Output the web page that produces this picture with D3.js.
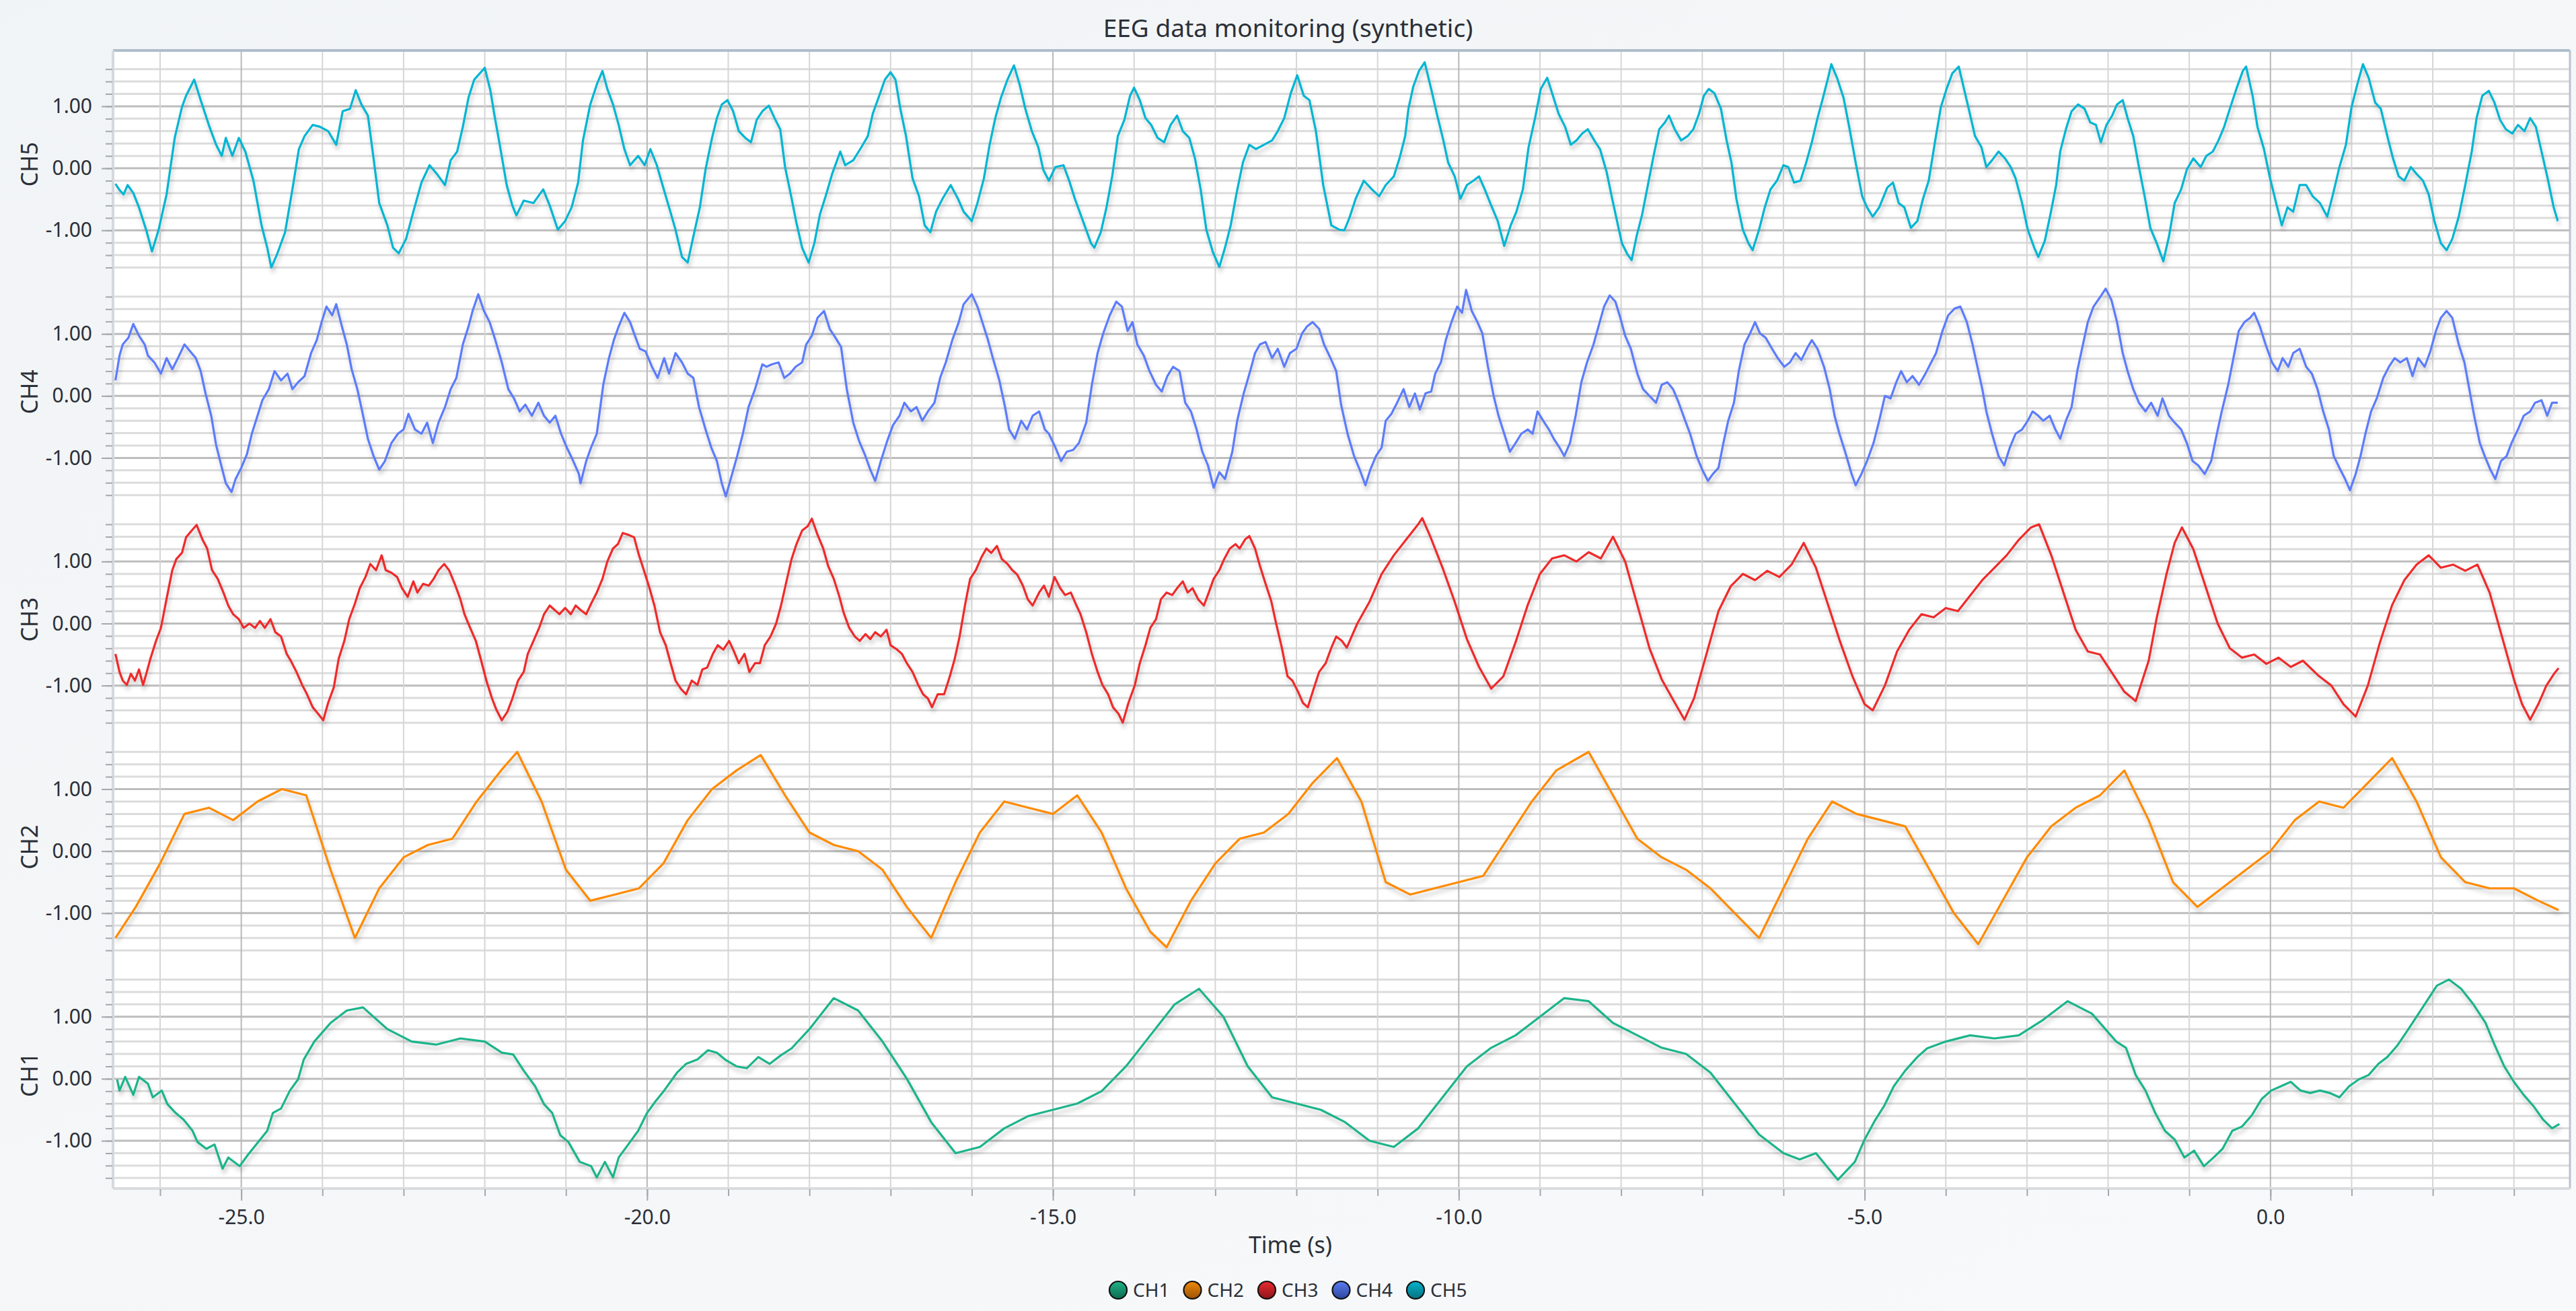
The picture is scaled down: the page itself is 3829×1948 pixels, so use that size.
<!DOCTYPE html>
<html>
<head>
<meta charset="utf-8">
<script src="https://cdn.jsdelivr.net/npm/d3@7"></script>
<style>
  html, body { margin: 0; padding: 0; background: #f5f7f9; }
  svg { display: block; font-family: "Segoe UI", "Noto Sans", "Open Sans", sans-serif; }
</style>
</head>
<body>
<div id="chart"></div>
<script>
// channel names, top panel is CH5
const channelNames = ["CH5", "CH4", "CH3", "CH2", "CH1"];
const legendNames = ["CH1", "CH2", "CH3", "CH4", "CH5"];
const lineColors = {CH1: "#1db48a", CH2: "#ff8a00", CH3: "#ef2a2c", CH4: "#5b7cfb", CH5: "#00b5d3"};
const legendTop = {CH1: "#23b389", CH2: "#f08a0c", CH3: "#ea2a30", CH4: "#5a7cf0", CH5: "#04b4cc"};
const legendBottom = {CH1: "#0c6a4f", CH2: "#9c5204", CH3: "#8c141a", CH4: "#2f469e", CH5: "#06707f"};

const xMajorTicks = [-25, -20, -15, -10, -5, 0];
const yMajorTicks = [-1, 0, 1];

// [time s, value]
const ch5 = [[-26.55,-0.25],[-26.5,-0.35],[-26.45,-0.42],[-26.4,-0.27],[-26.33,-0.4],[-26.26,-0.63],[-26.17,-1.0],[-26.1,-1.34],[-26.02,-1.0],[-25.92,-0.42],[-25.82,0.49],[-25.73,0.99],[-25.68,1.17],[-25.58,1.43],[-25.5,1.1],[-25.4,0.7],[-25.31,0.38],[-25.24,0.2],[-25.19,0.49],[-25.11,0.2],[-25.03,0.49],[-24.95,0.27],[-24.85,-0.2],[-24.75,-0.92],[-24.68,-1.28],[-24.63,-1.6],[-24.56,-1.39],[-24.46,-1.03],[-24.37,-0.34],[-24.29,0.31],[-24.22,0.52],[-24.12,0.7],[-24.03,0.67],[-23.93,0.6],[-23.83,0.38],[-23.75,0.92],[-23.66,0.96],[-23.59,1.26],[-23.52,1.03],[-23.44,0.85],[-23.37,0.16],[-23.3,-0.56],[-23.2,-0.92],[-23.13,-1.28],[-23.06,-1.37],[-22.97,-1.14],[-22.88,-0.7],[-22.78,-0.23],[-22.68,0.05],[-22.59,-0.09],[-22.49,-0.27],[-22.42,0.13],[-22.34,0.27],[-22.27,0.67],[-22.2,1.14],[-22.13,1.43],[-22.0,1.62],[-21.93,1.25],[-21.88,0.85],[-21.81,0.34],[-21.73,-0.27],[-21.66,-0.6],[-21.61,-0.76],[-21.52,-0.52],[-21.4,-0.56],[-21.28,-0.34],[-21.2,-0.6],[-21.1,-0.99],[-21.01,-0.85],[-20.93,-0.63],[-20.85,-0.23],[-20.79,0.45],[-20.7,1.03],[-20.62,1.35],[-20.55,1.57],[-20.49,1.28],[-20.42,1.03],[-20.35,0.7],[-20.28,0.31],[-20.21,0.05],[-20.11,0.2],[-20.03,0.05],[-19.96,0.31],[-19.88,0.05],[-19.81,-0.27],[-19.72,-0.67],[-19.65,-0.99],[-19.57,-1.43],[-19.5,-1.52],[-19.43,-1.1],[-19.35,-0.63],[-19.28,-0.02],[-19.2,0.49],[-19.14,0.81],[-19.08,1.03],[-19.01,1.1],[-18.94,0.92],[-18.87,0.6],[-18.79,0.49],[-18.72,0.42],[-18.65,0.78],[-18.58,0.92],[-18.5,1.01],[-18.43,0.81],[-18.36,0.63],[-18.3,0.02],[-18.23,-0.42],[-18.16,-0.88],[-18.09,-1.28],[-18.01,-1.52],[-17.94,-1.21],[-17.87,-0.74],[-17.8,-0.45],[-17.72,-0.09],[-17.62,0.27],[-17.56,0.05],[-17.46,0.13],[-17.36,0.34],[-17.28,0.52],[-17.22,0.88],[-17.14,1.17],[-17.07,1.43],[-17.0,1.55],[-16.94,1.43],[-16.88,0.96],[-16.81,0.52],[-16.73,-0.16],[-16.65,-0.45],[-16.58,-0.92],[-16.51,-1.03],[-16.44,-0.7],[-16.36,-0.49],[-16.26,-0.27],[-16.17,-0.49],[-16.1,-0.7],[-16.0,-0.85],[-15.93,-0.56],[-15.85,-0.16],[-15.78,0.38],[-15.71,0.81],[-15.64,1.14],[-15.56,1.43],[-15.48,1.66],[-15.41,1.35],[-15.34,0.96],[-15.26,0.6],[-15.18,0.34],[-15.12,-0.02],[-15.05,-0.2],[-14.97,0.02],[-14.87,0.05],[-14.8,-0.2],[-14.73,-0.49],[-14.63,-0.85],[-14.53,-1.21],[-14.49,-1.28],[-14.41,-1.03],[-14.34,-0.63],[-14.27,-0.13],[-14.2,0.52],[-14.12,0.78],[-14.05,1.17],[-14.0,1.3],[-13.93,1.1],[-13.86,0.81],[-13.79,0.7],[-13.71,0.49],[-13.63,0.42],[-13.55,0.7],[-13.47,0.85],[-13.4,0.6],[-13.32,0.49],[-13.25,0.16],[-13.18,-0.34],[-13.11,-0.99],[-13.03,-1.35],[-12.95,-1.59],[-12.88,-1.28],[-12.81,-0.92],[-12.74,-0.42],[-12.66,0.09],[-12.58,0.38],[-12.5,0.31],[-12.4,0.38],[-12.3,0.45],[-12.23,0.6],[-12.15,0.81],[-12.07,1.21],[-11.99,1.5],[-11.91,1.17],[-11.84,1.1],[-11.76,0.6],[-11.67,-0.27],[-11.57,-0.92],[-11.47,-0.99],[-11.41,-1.0],[-11.35,-0.81],[-11.27,-0.49],[-11.17,-0.2],[-11.07,-0.34],[-10.98,-0.45],[-10.9,-0.27],[-10.8,-0.13],[-10.73,0.16],[-10.66,0.52],[-10.62,0.96],[-10.56,1.32],[-10.49,1.57],[-10.42,1.71],[-10.34,1.28],[-10.27,0.88],[-10.19,0.45],[-10.13,0.09],[-10.05,-0.13],[-9.98,-0.49],[-9.9,-0.27],[-9.82,-0.2],[-9.75,-0.13],[-9.68,-0.34],[-9.6,-0.6],[-9.52,-0.85],[-9.44,-1.25],[-9.36,-0.92],[-9.29,-0.7],[-9.21,-0.34],[-9.14,0.34],[-9.06,0.81],[-8.99,1.28],[-8.91,1.46],[-8.84,1.17],[-8.77,0.88],[-8.69,0.67],[-8.62,0.38],[-8.55,0.45],[-8.48,0.56],[-8.41,0.63],[-8.33,0.45],[-8.26,0.31],[-8.18,-0.05],[-8.11,-0.49],[-8.05,-0.85],[-7.99,-1.21],[-7.92,-1.39],[-7.87,-1.48],[-7.81,-1.1],[-7.74,-0.74],[-7.67,-0.27],[-7.6,0.2],[-7.53,0.63],[-7.46,0.74],[-7.41,0.85],[-7.34,0.63],[-7.26,0.45],[-7.18,0.52],[-7.11,0.63],[-7.04,0.88],[-6.98,1.17],[-6.92,1.28],[-6.85,1.21],[-6.77,0.96],[-6.7,0.45],[-6.64,0.09],[-6.58,-0.49],[-6.5,-0.99],[-6.43,-1.21],[-6.38,-1.32],[-6.3,-0.99],[-6.23,-0.63],[-6.16,-0.34],[-6.08,-0.2],[-6.0,0.05],[-5.94,0.02],[-5.87,-0.23],[-5.79,-0.2],[-5.72,0.09],[-5.65,0.42],[-5.58,0.81],[-5.52,1.1],[-5.45,1.46],[-5.41,1.68],[-5.34,1.46],[-5.26,1.14],[-5.19,0.67],[-5.11,0.09],[-5.03,-0.45],[-4.97,-0.63],[-4.9,-0.78],[-4.82,-0.63],[-4.72,-0.31],[-4.65,-0.23],[-4.58,-0.56],[-4.51,-0.63],[-4.43,-0.96],[-4.35,-0.85],[-4.28,-0.49],[-4.21,-0.2],[-4.13,0.45],[-4.06,0.99],[-3.99,1.28],[-3.92,1.53],[-3.84,1.64],[-3.77,1.25],[-3.71,0.92],[-3.64,0.52],[-3.56,0.34],[-3.5,0.02],[-3.43,0.13],[-3.35,0.27],[-3.27,0.16],[-3.2,0.02],[-3.14,-0.16],[-3.06,-0.56],[-2.99,-0.99],[-2.91,-1.28],[-2.86,-1.43],[-2.78,-1.17],[-2.71,-0.74],[-2.64,-0.27],[-2.59,0.27],[-2.52,0.63],[-2.45,0.92],[-2.37,1.03],[-2.29,0.96],[-2.22,0.74],[-2.15,0.7],[-2.09,0.42],[-2.02,0.7],[-1.95,0.85],[-1.89,1.03],[-1.82,1.1],[-1.76,0.81],[-1.69,0.52],[-1.62,0.02],[-1.55,-0.45],[-1.48,-0.96],[-1.4,-1.21],[-1.32,-1.5],[-1.25,-1.1],[-1.18,-0.56],[-1.1,-0.34],[-1.03,-0.02],[-0.95,0.16],[-0.86,0.02],[-0.79,0.2],[-0.71,0.27],[-0.64,0.45],[-0.57,0.67],[-0.5,0.96],[-0.42,1.28],[-0.34,1.57],[-0.3,1.64],[-0.22,1.17],[-0.16,0.67],[-0.08,0.31],[-0.01,-0.13],[0.07,-0.56],[0.14,-0.92],[0.21,-0.63],[0.28,-0.7],[0.36,-0.27],[0.44,-0.27],[0.52,-0.45],[0.61,-0.56],[0.7,-0.78],[0.77,-0.42],[0.85,0.02],[0.93,0.38],[1.0,0.99],[1.07,1.35],[1.14,1.68],[1.21,1.46],[1.29,1.06],[1.36,0.96],[1.44,0.52],[1.51,0.16],[1.58,-0.13],[1.65,-0.2],[1.73,0.02],[1.8,-0.09],[1.88,-0.2],[1.95,-0.42],[2.02,-0.85],[2.1,-1.21],[2.17,-1.32],[2.24,-1.14],[2.32,-0.78],[2.4,-0.27],[2.48,0.27],[2.54,0.81],[2.61,1.17],[2.69,1.25],[2.76,1.06],[2.83,0.78],[2.9,0.63],[2.98,0.56],[3.05,0.7],[3.13,0.6],[3.2,0.81],[3.27,0.67],[3.34,0.27],[3.41,-0.13],[3.49,-0.63],[3.54,-0.85]];

const ch4 = [[-26.55,0.25],[-26.5,0.65],[-26.46,0.83],[-26.39,0.94],[-26.33,1.16],[-26.26,0.97],[-26.19,0.83],[-26.15,0.65],[-26.07,0.54],[-25.99,0.36],[-25.92,0.61],[-25.85,0.43],[-25.78,0.61],[-25.7,0.83],[-25.63,0.72],[-25.56,0.61],[-25.5,0.4],[-25.44,0.04],[-25.37,-0.32],[-25.31,-0.79],[-25.26,-1.05],[-25.19,-1.41],[-25.12,-1.55],[-25.07,-1.34],[-25.0,-1.16],[-24.93,-0.94],[-24.87,-0.61],[-24.8,-0.32],[-24.74,-0.07],[-24.66,0.11],[-24.59,0.4],[-24.51,0.25],[-24.43,0.36],[-24.37,0.11],[-24.3,0.22],[-24.22,0.32],[-24.14,0.69],[-24.07,0.9],[-24.01,1.19],[-23.95,1.44],[-23.88,1.3],[-23.83,1.48],[-23.76,1.12],[-23.7,0.83],[-23.64,0.43],[-23.57,0.11],[-23.51,-0.25],[-23.44,-0.69],[-23.37,-0.97],[-23.3,-1.19],[-23.23,-1.05],[-23.15,-0.76],[-23.07,-0.61],[-23.0,-0.54],[-22.94,-0.29],[-22.86,-0.54],[-22.78,-0.61],[-22.71,-0.43],[-22.64,-0.76],[-22.57,-0.43],[-22.49,-0.18],[-22.42,0.11],[-22.35,0.29],[-22.27,0.83],[-22.2,1.12],[-22.15,1.37],[-22.08,1.64],[-22.01,1.37],[-21.94,1.19],[-21.87,0.9],[-21.79,0.54],[-21.71,0.11],[-21.64,-0.04],[-21.57,-0.25],[-21.5,-0.14],[-21.42,-0.32],[-21.34,-0.11],[-21.27,-0.32],[-21.2,-0.43],[-21.13,-0.32],[-21.06,-0.61],[-20.99,-0.83],[-20.91,-1.05],[-20.84,-1.26],[-20.82,-1.41],[-20.75,-1.05],[-20.69,-0.83],[-20.62,-0.61],[-20.54,0.18],[-20.47,0.61],[-20.41,0.9],[-20.35,1.12],[-20.28,1.34],[-20.21,1.19],[-20.15,0.97],[-20.09,0.76],[-20.02,0.72],[-19.94,0.47],[-19.87,0.29],[-19.79,0.61],[-19.73,0.36],[-19.65,0.69],[-19.57,0.54],[-19.5,0.36],[-19.43,0.29],[-19.36,-0.18],[-19.28,-0.54],[-19.21,-0.83],[-19.14,-1.05],[-19.08,-1.41],[-19.03,-1.62],[-18.97,-1.34],[-18.89,-0.97],[-18.82,-0.61],[-18.75,-0.18],[-18.67,0.11],[-18.58,0.51],[-18.53,0.47],[-18.46,0.51],[-18.38,0.54],[-18.31,0.29],[-18.24,0.36],[-18.17,0.47],[-18.09,0.54],[-18.04,0.83],[-17.97,0.97],[-17.9,1.26],[-17.82,1.37],[-17.75,1.08],[-17.68,0.94],[-17.61,0.79],[-17.54,0.11],[-17.46,-0.43],[-17.39,-0.72],[-17.31,-0.97],[-17.25,-1.19],[-17.19,-1.37],[-17.12,-1.05],[-17.04,-0.72],[-16.97,-0.47],[-16.89,-0.32],[-16.83,-0.11],[-16.75,-0.25],[-16.68,-0.18],[-16.61,-0.4],[-16.54,-0.25],[-16.46,-0.11],[-16.39,0.29],[-16.32,0.54],[-16.24,0.9],[-16.16,1.19],[-16.1,1.48],[-16.0,1.64],[-15.93,1.44],[-15.87,1.19],[-15.8,0.9],[-15.74,0.61],[-15.66,0.25],[-15.59,-0.18],[-15.54,-0.54],[-15.47,-0.69],[-15.39,-0.4],[-15.32,-0.54],[-15.25,-0.32],[-15.17,-0.25],[-15.1,-0.54],[-15.05,-0.61],[-14.97,-0.83],[-14.9,-1.05],[-14.83,-0.9],[-14.75,-0.87],[-14.68,-0.76],[-14.59,-0.43],[-14.52,0.18],[-14.45,0.69],[-14.38,1.01],[-14.3,1.3],[-14.22,1.52],[-14.15,1.44],[-14.08,1.05],[-14.02,1.19],[-13.96,0.83],[-13.88,0.65],[-13.81,0.4],[-13.73,0.18],[-13.66,0.07],[-13.59,0.32],[-13.52,0.47],[-13.44,0.4],[-13.37,-0.11],[-13.3,-0.25],[-13.23,-0.54],[-13.16,-0.9],[-13.09,-1.12],[-13.02,-1.48],[-12.95,-1.23],[-12.88,-1.34],[-12.79,-0.9],[-12.73,-0.4],[-12.65,0.04],[-12.57,0.4],[-12.51,0.69],[-12.45,0.83],[-12.38,0.87],[-12.3,0.61],[-12.23,0.76],[-12.15,0.47],[-12.08,0.69],[-12.0,0.76],[-11.93,1.01],[-11.87,1.12],[-11.8,1.19],[-11.72,1.08],[-11.66,0.83],[-11.58,0.61],[-11.51,0.4],[-11.45,-0.14],[-11.37,-0.61],[-11.29,-0.97],[-11.22,-1.19],[-11.15,-1.44],[-11.09,-1.19],[-11.02,-0.97],[-10.95,-0.83],[-10.9,-0.4],[-10.83,-0.29],[-10.76,-0.11],[-10.68,0.11],[-10.61,-0.18],[-10.54,0.04],[-10.48,-0.22],[-10.41,0.04],[-10.34,0.07],[-10.29,0.36],[-10.22,0.54],[-10.16,0.9],[-10.09,1.19],[-10.02,1.44],[-9.96,1.34],[-9.91,1.71],[-9.84,1.37],[-9.77,1.19],[-9.71,1.01],[-9.64,0.47],[-9.57,0.0],[-9.51,-0.32],[-9.44,-0.61],[-9.37,-0.9],[-9.3,-0.76],[-9.23,-0.61],[-9.15,-0.54],[-9.09,-0.61],[-9.03,-0.25],[-8.96,-0.4],[-8.89,-0.54],[-8.83,-0.69],[-8.76,-0.83],[-8.7,-0.97],[-8.63,-0.76],[-8.56,-0.32],[-8.49,0.22],[-8.42,0.54],[-8.34,0.83],[-8.27,1.16],[-8.21,1.44],[-8.14,1.62],[-8.07,1.52],[-8.01,1.26],[-7.95,0.97],[-7.88,0.76],[-7.8,0.36],[-7.73,0.11],[-7.65,0.0],[-7.57,-0.11],[-7.5,0.18],[-7.43,0.22],[-7.36,0.11],[-7.29,-0.11],[-7.21,-0.4],[-7.15,-0.61],[-7.07,-0.97],[-7.0,-1.19],[-6.93,-1.37],[-6.87,-1.26],[-6.8,-1.16],[-6.74,-0.76],[-6.68,-0.4],[-6.61,-0.11],[-6.55,0.4],[-6.48,0.83],[-6.41,1.01],[-6.35,1.19],[-6.29,1.01],[-6.22,0.94],[-6.14,0.76],[-6.07,0.61],[-5.99,0.47],[-5.92,0.54],[-5.85,0.69],[-5.78,0.58],[-5.7,0.79],[-5.65,0.9],[-5.58,0.76],[-5.5,0.47],[-5.43,0.11],[-5.37,-0.32],[-5.31,-0.61],[-5.24,-0.9],[-5.16,-1.26],[-5.11,-1.44],[-5.04,-1.26],[-4.97,-1.05],[-4.89,-0.76],[-4.82,-0.4],[-4.75,0.0],[-4.68,-0.04],[-4.61,0.22],[-4.55,0.4],[-4.48,0.22],[-4.41,0.32],[-4.33,0.18],[-4.25,0.36],[-4.18,0.54],[-4.12,0.69],[-4.04,1.05],[-3.97,1.3],[-3.89,1.41],[-3.82,1.44],[-3.74,1.19],[-3.67,0.83],[-3.61,0.47],[-3.55,0.11],[-3.5,-0.25],[-3.43,-0.61],[-3.35,-0.97],[-3.28,-1.12],[-3.21,-0.83],[-3.14,-0.61],[-3.06,-0.54],[-2.99,-0.4],[-2.93,-0.25],[-2.86,-0.32],[-2.8,-0.4],[-2.72,-0.32],[-2.65,-0.54],[-2.59,-0.69],[-2.52,-0.4],[-2.45,-0.18],[-2.38,0.4],[-2.31,0.83],[-2.25,1.19],[-2.18,1.44],[-2.1,1.59],[-2.03,1.73],[-1.96,1.55],[-1.89,1.19],[-1.82,0.69],[-1.76,0.4],[-1.69,0.11],[-1.62,-0.11],[-1.54,-0.25],[-1.47,-0.11],[-1.39,-0.32],[-1.33,-0.04],[-1.25,-0.32],[-1.18,-0.43],[-1.1,-0.54],[-1.03,-0.76],[-0.96,-1.05],[-0.89,-1.12],[-0.81,-1.26],[-0.73,-1.05],[-0.66,-0.61],[-0.6,-0.25],[-0.52,0.18],[-0.45,0.65],[-0.39,1.05],[-0.32,1.19],[-0.25,1.26],[-0.2,1.34],[-0.13,1.12],[-0.06,0.83],[0.02,0.54],[0.09,0.4],[0.15,0.61],[0.22,0.47],[0.28,0.69],[0.36,0.76],[0.44,0.47],[0.51,0.36],[0.58,0.11],[0.65,-0.25],[0.72,-0.54],[0.78,-0.97],[0.85,-1.16],[0.92,-1.34],[0.98,-1.52],[1.05,-1.26],[1.11,-0.97],[1.17,-0.61],[1.24,-0.25],[1.31,-0.04],[1.39,0.29],[1.46,0.47],[1.53,0.61],[1.6,0.54],[1.68,0.61],[1.75,0.32],[1.82,0.61],[1.9,0.47],[1.97,0.72],[2.04,1.05],[2.1,1.26],[2.17,1.37],[2.24,1.26],[2.32,0.83],[2.39,0.54],[2.45,0.11],[2.51,-0.32],[2.58,-0.76],[2.64,-0.97],[2.71,-1.19],[2.77,-1.34],[2.84,-1.05],[2.91,-0.97],[2.97,-0.76],[3.05,-0.54],[3.12,-0.32],[3.2,-0.25],[3.26,-0.11],[3.34,-0.07],[3.41,-0.32],[3.47,-0.11],[3.54,-0.11]];

const ch3 = [[-26.55,-0.49],[-26.5,-0.78],[-26.46,-0.92],[-26.41,-0.99],[-26.36,-0.81],[-26.31,-0.92],[-26.26,-0.74],[-26.21,-0.99],[-26.17,-0.81],[-26.12,-0.57],[-26.05,-0.28],[-25.99,-0.07],[-25.92,0.4],[-25.85,0.86],[-25.8,1.04],[-25.73,1.14],[-25.68,1.39],[-25.61,1.5],[-25.55,1.59],[-25.48,1.36],[-25.42,1.21],[-25.36,0.86],[-25.29,0.72],[-25.22,0.5],[-25.16,0.29],[-25.1,0.15],[-25.03,0.07],[-24.97,-0.07],[-24.9,0.0],[-24.83,-0.07],[-24.77,0.04],[-24.71,-0.07],[-24.64,0.07],[-24.58,-0.14],[-24.51,-0.21],[-24.44,-0.49],[-24.39,-0.6],[-24.32,-0.78],[-24.25,-0.99],[-24.19,-1.14],[-24.12,-1.35],[-24.05,-1.46],[-23.99,-1.56],[-23.93,-1.28],[-23.86,-1.03],[-23.8,-0.57],[-23.73,-0.28],[-23.67,0.07],[-23.6,0.32],[-23.54,0.57],[-23.47,0.75],[-23.41,0.96],[-23.34,0.86],[-23.27,1.1],[-23.22,0.86],[-23.15,0.82],[-23.08,0.75],[-23.02,0.57],[-22.95,0.43],[-22.88,0.68],[-22.83,0.5],[-22.76,0.64],[-22.69,0.61],[-22.63,0.72],[-22.57,0.86],[-22.5,0.96],[-22.44,0.86],[-22.37,0.64],[-22.3,0.39],[-22.25,0.15],[-22.18,-0.07],[-22.11,-0.28],[-22.05,-0.57],[-21.98,-0.92],[-21.91,-1.21],[-21.86,-1.38],[-21.79,-1.56],[-21.72,-1.42],[-21.66,-1.21],[-21.59,-0.92],[-21.52,-0.78],[-21.47,-0.49],[-21.4,-0.28],[-21.33,-0.07],[-21.27,0.15],[-21.2,0.29],[-21.14,0.22],[-21.08,0.15],[-21.01,0.25],[-20.94,0.15],[-20.88,0.29],[-20.82,0.22],[-20.75,0.15],[-20.69,0.32],[-20.62,0.5],[-20.55,0.72],[-20.49,1.0],[-20.42,1.21],[-20.36,1.28],[-20.3,1.46],[-20.23,1.43],[-20.16,1.39],[-20.1,1.1],[-20.04,0.86],[-19.97,0.57],[-19.91,0.29],[-19.84,-0.14],[-19.77,-0.35],[-19.71,-0.64],[-19.65,-0.92],[-19.58,-1.06],[-19.52,-1.14],[-19.45,-0.92],[-19.38,-0.99],[-19.32,-0.74],[-19.26,-0.71],[-19.19,-0.49],[-19.13,-0.35],[-19.06,-0.42],[-18.99,-0.28],[-18.94,-0.42],[-18.87,-0.64],[-18.8,-0.49],[-18.74,-0.78],[-18.67,-0.64],[-18.61,-0.64],[-18.55,-0.35],[-18.48,-0.21],[-18.41,0.0],[-18.35,0.29],[-18.29,0.64],[-18.22,1.04],[-18.16,1.28],[-18.09,1.5],[-18.02,1.57],[-17.97,1.69],[-17.9,1.43],[-17.83,1.21],[-17.77,0.93],[-17.7,0.72],[-17.63,0.43],[-17.58,0.18],[-17.51,-0.07],[-17.44,-0.21],[-17.38,-0.28],[-17.31,-0.17],[-17.25,-0.25],[-17.19,-0.14],[-17.12,-0.21],[-17.05,-0.1],[-17.0,-0.35],[-16.92,-0.42],[-16.86,-0.49],[-16.8,-0.64],[-16.73,-0.78],[-16.66,-0.99],[-16.6,-1.14],[-16.54,-1.21],[-16.49,-1.35],[-16.42,-1.14],[-16.34,-1.14],[-16.27,-0.85],[-16.21,-0.57],[-16.15,-0.21],[-16.08,0.32],[-16.02,0.72],[-15.95,0.86],[-15.88,1.07],[-15.82,1.21],[-15.76,1.14],[-15.69,1.25],[-15.63,1.04],[-15.56,0.96],[-15.5,0.86],[-15.44,0.79],[-15.37,0.61],[-15.31,0.39],[-15.25,0.29],[-15.17,0.5],[-15.11,0.61],[-15.05,0.43],[-14.98,0.75],[-14.91,0.57],[-14.85,0.46],[-14.78,0.5],[-14.71,0.29],[-14.66,0.15],[-14.59,-0.14],[-14.52,-0.49],[-14.45,-0.78],[-14.39,-0.99],[-14.32,-1.14],[-14.26,-1.35],[-14.19,-1.46],[-14.14,-1.6],[-14.07,-1.28],[-13.99,-0.99],[-13.93,-0.64],[-13.86,-0.35],[-13.8,-0.07],[-13.73,0.07],[-13.67,0.39],[-13.6,0.5],[-13.53,0.46],[-13.47,0.57],[-13.4,0.68],[-13.34,0.5],[-13.28,0.57],[-13.21,0.39],[-13.14,0.29],[-13.08,0.5],[-13.02,0.72],[-12.95,0.86],[-12.89,1.04],[-12.82,1.21],[-12.75,1.28],[-12.7,1.21],[-12.63,1.36],[-12.58,1.41],[-12.51,1.21],[-12.45,0.93],[-12.38,0.64],[-12.31,0.36],[-12.25,0.0],[-12.18,-0.39],[-12.11,-0.85],[-12.05,-0.92],[-11.98,-1.1],[-11.92,-1.28],[-11.86,-1.35],[-11.79,-1.06],[-11.72,-0.78],[-11.64,-0.64],[-11.57,-0.39],[-11.51,-0.21],[-11.44,-0.28],[-11.38,-0.39],[-11.25,0.0],[-11.1,0.35],[-10.95,0.8],[-10.8,1.1],[-10.65,1.35],[-10.5,1.6],[-10.45,1.7],[-10.35,1.4],[-10.2,0.9],[-10.05,0.35],[-9.9,-0.25],[-9.75,-0.7],[-9.6,-1.05],[-9.45,-0.85],[-9.3,-0.3],[-9.15,0.3],[-9.0,0.8],[-8.85,1.05],[-8.7,1.1],[-8.55,1.0],[-8.4,1.15],[-8.25,1.05],[-8.1,1.4],[-7.95,1.0],[-7.8,0.3],[-7.65,-0.4],[-7.5,-0.9],[-7.35,-1.25],[-7.22,-1.55],[-7.1,-1.2],[-6.95,-0.5],[-6.8,0.2],[-6.65,0.6],[-6.5,0.8],[-6.35,0.7],[-6.2,0.85],[-6.05,0.75],[-5.9,0.95],[-5.75,1.3],[-5.6,0.9],[-5.45,0.3],[-5.3,-0.3],[-5.15,-0.85],[-5.0,-1.3],[-4.9,-1.4],[-4.75,-1.0],[-4.6,-0.45],[-4.45,-0.1],[-4.3,0.15],[-4.15,0.1],[-4.0,0.25],[-3.85,0.2],[-3.7,0.45],[-3.55,0.7],[-3.4,0.9],[-3.25,1.1],[-3.1,1.35],[-2.95,1.55],[-2.85,1.6],[-2.7,1.1],[-2.55,0.5],[-2.4,-0.1],[-2.25,-0.45],[-2.1,-0.5],[-1.95,-0.8],[-1.8,-1.1],[-1.66,-1.25],[-1.5,-0.6],[-1.4,0.1],[-1.28,0.8],[-1.18,1.3],[-1.09,1.55],[-0.95,1.2],[-0.8,0.6],[-0.65,0.0],[-0.5,-0.4],[-0.35,-0.55],[-0.2,-0.5],[-0.05,-0.65],[0.1,-0.55],[0.25,-0.7],[0.4,-0.6],[0.6,-0.85],[0.75,-1.0],[0.9,-1.3],[1.05,-1.5],[1.2,-1.0],[1.35,-0.3],[1.5,0.3],[1.65,0.7],[1.8,0.95],[1.95,1.1],[2.1,0.9],[2.25,0.95],[2.4,0.85],[2.55,0.95],[2.7,0.5],[2.85,-0.2],[3.0,-0.9],[3.1,-1.3],[3.2,-1.55],[3.3,-1.3],[3.4,-1.0],[3.5,-0.8],[3.55,-0.72]];

const ch2 = [[-26.55,-1.4],[-26.3,-0.9],[-26.0,-0.2],[-25.7,0.6],[-25.4,0.7],[-25.1,0.5],[-24.8,0.8],[-24.5,1.0],[-24.2,0.9],[-23.9,-0.3],[-23.6,-1.4],[-23.3,-0.6],[-23.0,-0.1],[-22.7,0.1],[-22.4,0.2],[-22.1,0.8],[-21.8,1.3],[-21.6,1.6],[-21.3,0.8],[-21.0,-0.3],[-20.7,-0.8],[-20.4,-0.7],[-20.1,-0.6],[-19.8,-0.2],[-19.5,0.5],[-19.2,1.0],[-18.9,1.3],[-18.6,1.55],[-18.3,0.9],[-18.0,0.3],[-17.7,0.1],[-17.4,0.0],[-17.1,-0.3],[-16.8,-0.9],[-16.5,-1.4],[-16.2,-0.5],[-15.9,0.3],[-15.6,0.8],[-15.3,0.7],[-15.0,0.6],[-14.7,0.9],[-14.4,0.3],[-14.1,-0.6],[-13.8,-1.3],[-13.6,-1.55],[-13.3,-0.8],[-13.0,-0.2],[-12.7,0.2],[-12.4,0.3],[-12.1,0.6],[-11.8,1.1],[-11.5,1.5],[-11.2,0.8],[-10.9,-0.5],[-10.6,-0.7],[-10.3,-0.6],[-10.0,-0.5],[-9.7,-0.4],[-9.4,0.2],[-9.1,0.8],[-8.8,1.3],[-8.4,1.6],[-8.1,0.9],[-7.8,0.2],[-7.5,-0.1],[-7.2,-0.3],[-6.9,-0.6],[-6.6,-1.0],[-6.3,-1.4],[-6.0,-0.6],[-5.7,0.2],[-5.4,0.8],[-5.1,0.6],[-4.8,0.5],[-4.5,0.4],[-4.2,-0.3],[-3.9,-1.0],[-3.6,-1.5],[-3.3,-0.8],[-3.0,-0.1],[-2.7,0.4],[-2.4,0.7],[-2.1,0.9],[-1.8,1.3],[-1.5,0.5],[-1.2,-0.5],[-0.9,-0.9],[-0.6,-0.6],[-0.3,-0.3],[0.0,0.0],[0.3,0.5],[0.6,0.8],[0.9,0.7],[1.2,1.1],[1.5,1.5],[1.8,0.8],[2.1,-0.1],[2.4,-0.5],[2.7,-0.6],[3.0,-0.6],[3.3,-0.8],[3.55,-0.95]];

const ch1 = [[-26.53,-0.01],[-26.5,-0.19],[-26.43,0.03],[-26.33,-0.26],[-26.26,0.03],[-26.15,-0.08],[-26.09,-0.3],[-25.98,-0.19],[-25.91,-0.41],[-25.81,-0.55],[-25.71,-0.66],[-25.6,-0.84],[-25.54,-1.02],[-25.43,-1.13],[-25.33,-1.06],[-25.23,-1.45],[-25.16,-1.27],[-25.02,-1.41],[-24.92,-1.23],[-24.81,-1.05],[-24.68,-0.84],[-24.61,-0.55],[-24.51,-0.48],[-24.4,-0.19],[-24.3,-0.01],[-24.23,0.31],[-24.1,0.6],[-23.9,0.9],[-23.7,1.1],[-23.5,1.15],[-23.2,0.8],[-22.9,0.6],[-22.6,0.55],[-22.3,0.65],[-22.0,0.6],[-21.79,0.42],[-21.65,0.39],[-21.52,0.13],[-21.38,-0.12],[-21.27,-0.41],[-21.17,-0.55],[-21.07,-0.91],[-20.97,-1.02],[-20.83,-1.34],[-20.69,-1.41],[-20.62,-1.59],[-20.52,-1.34],[-20.42,-1.59],[-20.35,-1.27],[-20.21,-1.02],[-20.11,-0.84],[-20.0,-0.55],[-19.9,-0.37],[-19.79,-0.19],[-19.69,-0.01],[-19.63,0.1],[-19.52,0.24],[-19.38,0.31],[-19.25,0.46],[-19.14,0.42],[-19.04,0.31],[-18.9,0.2],[-18.77,0.17],[-18.63,0.35],[-18.49,0.24],[-18.35,0.38],[-18.22,0.49],[-18.0,0.8],[-17.7,1.3],[-17.4,1.1],[-17.1,0.6],[-16.8,0.0],[-16.5,-0.7],[-16.2,-1.2],[-15.9,-1.1],[-15.6,-0.8],[-15.3,-0.6],[-15.0,-0.5],[-14.7,-0.4],[-14.4,-0.2],[-14.1,0.2],[-13.8,0.7],[-13.5,1.2],[-13.2,1.45],[-12.9,1.0],[-12.6,0.2],[-12.3,-0.3],[-12.0,-0.4],[-11.7,-0.5],[-11.4,-0.7],[-11.1,-1.0],[-10.8,-1.1],[-10.5,-0.8],[-10.2,-0.3],[-9.9,0.2],[-9.6,0.5],[-9.3,0.7],[-9.0,1.0],[-8.7,1.3],[-8.4,1.25],[-8.1,0.9],[-7.8,0.7],[-7.5,0.5],[-7.2,0.4],[-6.9,0.1],[-6.6,-0.4],[-6.3,-0.9],[-6.0,-1.2],[-5.8,-1.3],[-5.6,-1.2],[-5.33,-1.63],[-5.12,-1.34],[-5.0,-0.98],[-4.88,-0.69],[-4.76,-0.44],[-4.64,-0.12],[-4.5,0.13],[-4.35,0.35],[-4.23,0.49],[-4.0,0.6],[-3.7,0.7],[-3.4,0.65],[-3.1,0.7],[-2.8,0.95],[-2.5,1.25],[-2.2,1.05],[-1.9,0.6],[-1.78,0.5],[-1.66,0.06],[-1.54,-0.19],[-1.42,-0.55],[-1.3,-0.84],[-1.18,-0.98],[-1.06,-1.27],[-0.94,-1.16],[-0.82,-1.41],[-0.7,-1.27],[-0.59,-1.13],[-0.47,-0.84],[-0.35,-0.77],[-0.23,-0.59],[-0.11,-0.33],[0.01,-0.19],[0.13,-0.12],[0.25,-0.05],[0.37,-0.19],[0.49,-0.23],[0.61,-0.19],[0.73,-0.23],[0.85,-0.3],[0.97,-0.12],[1.09,-0.01],[1.21,0.06],[1.33,0.24],[1.44,0.35],[1.56,0.53],[1.7,0.8],[1.9,1.2],[2.05,1.5],[2.2,1.6],[2.35,1.45],[2.5,1.2],[2.65,0.9],[2.76,0.55],[2.88,0.2],[3.0,-0.05],[3.12,-0.26],[3.24,-0.44],[3.36,-0.66],[3.47,-0.8],[3.56,-0.73]];

const series = {CH1: ch1, CH2: ch2, CH3: ch3, CH4: ch4, CH5: ch5};

const W = 3829, H = 1948;
const plot = {left: 168, right: 3820, top: 75, bottom: 1766};
const panelH = (plot.bottom - plot.top) / channelNames.length;

const svg = d3.select("#chart").append("svg")
  .attr("width", W).attr("height", H);

const defs = svg.append("defs");
const bg = defs.append("linearGradient").attr("id", "bg")
  .attr("x1", 0).attr("y1", 0).attr("x2", 1).attr("y2", 1);
bg.append("stop").attr("offset", "0%").attr("stop-color", "#f1f4f6");
bg.append("stop").attr("offset", "100%").attr("stop-color", "#f8f9fa");

defs.append("filter").attr("id", "shadow")
    .attr("x", "-5%").attr("y", "-20%").attr("width", "110%").attr("height", "150%")
  .append("feDropShadow")
    .attr("dx", 2).attr("dy", 6).attr("stdDeviation", 3)
    .attr("flood-color", "#000").attr("flood-opacity", 0.22);

legendNames.forEach(name => {
  const g = defs.append("linearGradient").attr("id", "lg" + name)
    .attr("x1", 0).attr("y1", 0).attr("x2", 0).attr("y2", 1);
  g.append("stop").attr("offset", "0%").attr("stop-color", legendTop[name]);
  g.append("stop").attr("offset", "100%").attr("stop-color", legendBottom[name]);
});

svg.append("rect").attr("width", W).attr("height", H).attr("fill", "url(#bg)");
svg.append("rect")
  .attr("x", plot.left).attr("y", plot.top)
  .attr("width", plot.right - plot.left).attr("height", plot.bottom - plot.top)
  .attr("fill", "#ffffff");

const x = d3.scaleLinear().domain([-26.58, 3.69]).range([plot.left, plot.right]);

// one y scale per panel
const yScales = channelNames.map((name, i) => {
  const top = plot.top + i * panelH;
  return d3.scaleLinear().domain([-1.77, 1.9]).range([top + panelH, top]);
});

// horizontal grid
const gridVals = d3.range(-8, 9).map(k => k * 0.2);
const grid = svg.append("g");
yScales.forEach(y => {
  grid.selectAll(null).data(gridVals).join("line")
    .attr("x1", plot.left).attr("x2", plot.right)
    .attr("y1", d => y(d)).attr("y2", d => y(d))
    .attr("stroke", d => Math.abs(d - Math.round(d)) < 1e-6 && Math.abs(d) <= 1 ? "#bdbdbd" : "#dcdcdc")
    .attr("stroke-width", 3);
});

// vertical grid every second
const secs = d3.range(-26, 4);
grid.selectAll(null).data(secs).join("line")
  .attr("x1", d => x(d)).attr("x2", d => x(d))
  .attr("y1", plot.top).attr("y2", plot.bottom)
  .attr("stroke", d => d % 5 === 0 ? "#b8b8b8" : "#d6d6d6")
  .attr("stroke-width", 2);

// borders
svg.append("line").attr("x1", plot.left).attr("x2", plot.right)
  .attr("y1", plot.top).attr("y2", plot.top)
  .attr("stroke", "#aebdcb").attr("stroke-width", 4);
svg.append("line").attr("x1", plot.right).attr("x2", plot.right)
  .attr("y1", plot.top).attr("y2", plot.bottom)
  .attr("stroke", "#b9c4cf").attr("stroke-width", 3);
svg.append("line").attr("x1", plot.left).attr("x2", plot.right)
  .attr("y1", plot.bottom).attr("y2", plot.bottom)
  .attr("stroke", "#d9dcdf").attr("stroke-width", 4);
svg.append("line").attr("x1", plot.left).attr("x2", plot.left)
  .attr("y1", plot.top).attr("y2", plot.bottom)
  .attr("stroke", "#d5d9dd").attr("stroke-width", 4);

// traces
const line = d3.line().x(d => x(d[0]));
channelNames.forEach((name, i) => {
  const y = yScales[i];
  svg.append("path")
    .datum(series[name])
    .attr("d", line.y(d => y(d[1])))
    .attr("fill", "none")
    .attr("stroke", lineColors[name])
    .attr("stroke-width", 3.2)
    .attr("stroke-linejoin", "round")
    .attr("filter", "url(#shadow)");
});

const textColor = "#2b3038";

// y axes
channelNames.forEach((name, i) => {
  const y = yScales[i];
  const minor = svg.append("g").attr("transform", `translate(${plot.left - 1},0)`)
    .call(d3.axisLeft(y).tickValues(gridVals).tickSize(10).tickFormat(""));
  const major = svg.append("g").attr("transform", `translate(${plot.left - 1},0)`)
    .call(d3.axisLeft(y).tickValues(yMajorTicks).tickSize(16).tickPadding(14)
      .tickFormat(d => d.toFixed(2)));
  [minor, major].forEach(g => {
    g.select(".domain").remove();
    g.selectAll(".tick line").attr("stroke", "#a3a8ad").attr("stroke-width", 2);
  });
  major.selectAll(".tick text")
    .attr("fill", textColor).style("font-size", "30px")
    .style("font-family", "'Segoe UI', 'Noto Sans', 'Open Sans', sans-serif");

  svg.append("text")
    .attr("transform", `translate(43,${plot.top + i * panelH + panelH / 2}) rotate(-90)`)
    .attr("text-anchor", "middle").attr("dominant-baseline", "central")
    .attr("fill", textColor).style("font-size", "34px")
    .text(name);
});

// x axis
const xMinor = svg.append("g").attr("transform", `translate(0,${plot.bottom + 1})`)
  .call(d3.axisBottom(x).tickValues(secs).tickSize(10).tickFormat(""));
const xMajor = svg.append("g").attr("transform", `translate(0,${plot.bottom + 1})`)
  .call(d3.axisBottom(x).tickValues(xMajorTicks).tickSize(17).tickPadding(14)
    .tickFormat(d => d.toFixed(1)));
[xMinor, xMajor].forEach(g => {
  g.select(".domain").remove();
  g.selectAll(".tick line").attr("stroke", "#a3a8ad").attr("stroke-width", 2);
});
xMajor.selectAll(".tick text")
  .attr("fill", textColor).style("font-size", "30px")
  .style("font-family", "'Segoe UI', 'Noto Sans', 'Open Sans', sans-serif");

svg.append("text")
  .attr("x", 1918).attr("y", 1862)
  .attr("text-anchor", "middle").attr("fill", textColor)
  .style("font-size", "34px")
  .text("Time (s)");

// title
svg.append("text")
  .attr("x", W / 2).attr("y", 55)
  .attr("text-anchor", "middle").attr("fill", textColor)
  .style("font-size", "37px")
  .text("EEG data monitoring (synthetic)");

// legend
const legend = svg.append("g");
const item = legend.selectAll("g").data(legendNames).join("g")
  .attr("transform", (d, i) => `translate(${1662 + i * 110.5},1917)`);
item.append("circle").attr("r", 13)
  .attr("fill", d => `url(#lg${d})`)
  .attr("stroke", "#111").attr("stroke-width", 2.2);
item.append("text").attr("x", 22).attr("dy", "0.35em")
  .attr("fill", textColor).style("font-size", "28px")
  .text(d => d);
</script>
</body>
</html>
